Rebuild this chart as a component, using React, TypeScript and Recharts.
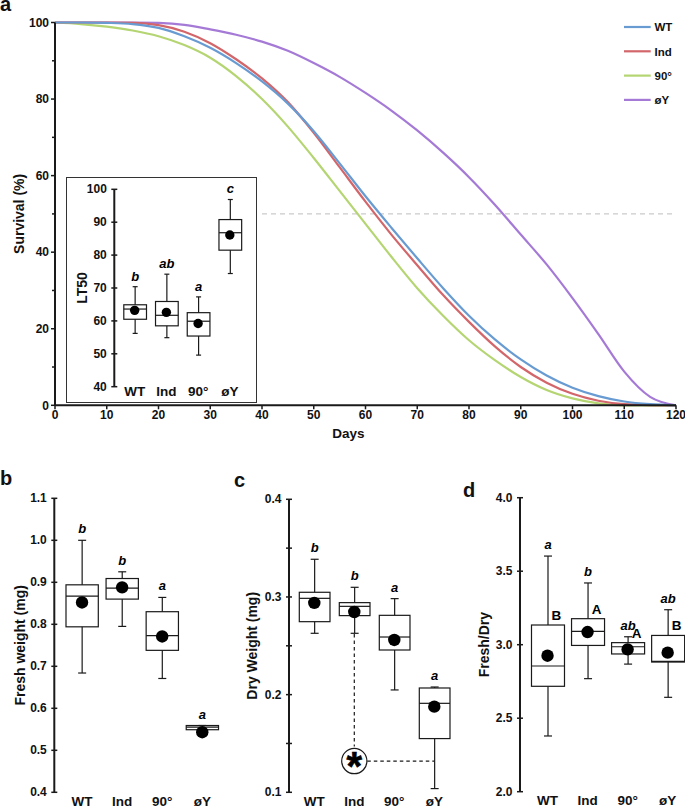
import React from "react";
import {
  Bar,
  ComposedChart,
  Line,
  LineChart,
  ReferenceDot,
  ReferenceLine,
  XAxis,
  YAxis,
} from "recharts";

const FONT = "'Liberation Sans', Arial, sans-serif";
const INK = "#1a1a1a";

// panel a: survival curves, read every 5 days
const days = [0, 5, 10, 15, 20, 25, 30, 35, 40, 45, 50, 55, 60, 65, 70, 75, 80, 85, 90, 95, 100, 105, 110, 115, 120];
const wtCurve = [100, 100, 99.9, 99.6, 98.6, 96.4, 93.4, 89.4, 84.6, 78.8, 71.6, 63.2, 54.6, 46.4, 38.4, 30.6, 23.4, 17.2, 12, 7.8, 4.6, 2.4, 1, 0.3, 0];
const indCurve = [100, 100, 100, 99.9, 99.3, 97.6, 94.6, 90.4, 85.4, 79.2, 71.2, 62.2, 53.2, 44.6, 36.6, 28.8, 21.8, 15.4, 10, 5.9, 3, 1.2, 0.3, 0.05, 0];
const deg90Curve = [100, 99.6, 98.9, 97.9, 96.4, 94.1, 90.8, 86, 80, 72.8, 64.6, 56, 47.4, 38.8, 30.6, 23.4, 17, 11.8, 7.4, 4, 1.8, 0.5, 0, 0, 0];
const noYCurve = [100, 100, 100, 100, 99.9, 99.4, 98.2, 96.8, 95, 92.6, 89.4, 85.8, 81.6, 77, 71.8, 66, 59.6, 52.4, 44.6, 36.8, 28, 18.6, 8.8, 2.2, 0];

const groups = ["WT", "Ind", "90°", "øY"];

// inset LT50
const lt50Max = [70.4, 74.2, 67.3, 96.9];
const lt50Q3 = [64.9, 65.9, 62.5, 90.8];
const lt50Median = [63.6, 61.7, 59.9, 86.8];
const lt50Q1 = [60.5, 58.5, 55.4, 81.5];
const lt50Min = [56.2, 54.9, 49.6, 74.4];
const lt50Mean = [63.2, 62.6, 59.2, 86.1];
const lt50Letters = ["b", "ab", "a", "c"];

// panel b
const freshMax = [1.0, 0.925, 0.864, 0.559];
const freshQ3 = [0.894, 0.909, 0.83, 0.559];
const freshMedian = [0.867, 0.886, 0.773, 0.555];
const freshQ1 = [0.794, 0.86, 0.738, 0.549];
const freshMin = [0.684, 0.795, 0.671, 0.549];
const freshMean = [0.852, 0.888, 0.771, 0.543];
const freshLetters = ["b", "b", "a", "a"];

// panel c
const dryMax = [0.3386, 0.3099, 0.2983, 0.2078];
const dryQ3 = [0.3048, 0.2942, 0.2812, 0.2068];
const dryMedian = [0.2986, 0.2904, 0.259, 0.1911];
const dryQ1 = [0.2747, 0.2809, 0.2457, 0.155];
const dryMin = [0.2628, 0.2628, 0.2048, 0.1038];
const dryMean = [0.2939, 0.2846, 0.256, 0.1877];
const dryLetters = ["b", "b", "a", "a"];

// panel d
const ratioMax = [3.603, 3.42, 3.054, 3.238];
const ratioQ3 = [3.134, 3.177, 3.014, 3.063];
const ratioMedian = [2.855, 3.09, 2.986, 2.887];
const ratioQ1 = [2.717, 2.995, 2.937, 2.882];
const ratioMin = [2.379, 2.769, 2.868, 2.642];
const ratioMean = [2.925, 3.086, 2.968, 2.946];
const ratioLetters = ["a", "b", "ab", "ab"];
const ratioCapitals = ["B", "A", "A", "B"];

const curveSeries = [
  { name: "øY", values: noYCurve, color: "#a57ad6" },
  { name: "90°", values: deg90Curve, color: "#b4d572" },
  { name: "Ind", values: indCurve, color: "#d2666a" },
  { name: "WT", values: wtCurve, color: "#689bd2" },
];
const legendOrder = ["WT", "Ind", "90°", "øY"];

const curveRows = days.map((day, i) => {
  const row: Record<string, number> = { day };
  curveSeries.forEach((s) => {
    row[s.name] = s.values[i];
  });
  return row;
});

function boxRows(max, q3, median, q1, min, mean, letters, capitals = []) {
  return groups.map((group, i) => ({
    group,
    max: max[i],
    q3: q3[i],
    median: median[i],
    q1: q1[i],
    min: min[i],
    mean: mean[i],
    letter: letters[i],
    capital: capitals[i],
  }));
}

// draws whisker, box, median and letters from the bar that spans min..max
function BoxShape(props) {
  const { x, y, width, height, payload, letterGap, capSize } = props;
  const { min, max, q1, q3, median, letter, capital } = payload;
  const perUnit = height / (max - min);
  const toY = (v: number) => y + (max - v) * perUnit;
  const cx = x + width / 2;
  const cap = capSize / 2;
  return (
    <g stroke={INK} strokeWidth={1.2} fill="none">
      <line x1={cx} x2={cx} y1={toY(max)} y2={toY(min)} />
      <line x1={cx - cap} x2={cx + cap} y1={toY(max)} y2={toY(max)} />
      <line x1={cx - cap} x2={cx + cap} y1={toY(min)} y2={toY(min)} />
      <rect x={x} y={toY(q3)} width={width} height={toY(q1) - toY(q3)} fill="#fff" />
      <line x1={x} x2={x + width} y1={toY(median)} y2={toY(median)} />
      <text
        x={cx}
        y={y - letterGap}
        textAnchor="middle"
        stroke="none"
        fill="#000"
        fontFamily={FONT}
        fontSize={13}
        fontWeight={700}
        fontStyle="italic"
      >
        {letter}
      </text>
      {capital ? (
        <text
          x={cx + 8.5}
          y={toY(q3) - 5}
          textAnchor="middle"
          stroke="none"
          fill="#000"
          fontFamily={FONT}
          fontSize={13.5}
          fontWeight={700}
        >
          {capital}
        </text>
      ) : null}
    </g>
  );
}

// ticks cross the axis line here, and only some of them carry a number
function makeYTick(labels: number[], decimals: number, out: number, inward: number, labelGap: number, minorOut = out) {
  return function YTick({ x, y, payload }) {
    const major = labels.includes(payload.value);
    return (
      <g>
        <line x1={x - (major ? out : minorOut)} x2={x + inward} y1={y} y2={y} stroke={INK} strokeWidth={1.5} />
        {major ? (
          <text x={x - labelGap} y={y + 4.2} textAnchor="end" fontFamily={FONT} fontSize={12} fontWeight={700} fill="#111">
            {payload.value.toFixed(decimals)}
          </text>
        ) : null}
      </g>
    );
  };
}

const titleStyle = { textAnchor: "middle" as const, fontFamily: FONT, fontSize: 14, fontWeight: 700, fill: "#111" };
const categoryTick = { fontFamily: FONT, fontSize: 13.5, fontWeight: 700, fill: "#111" };

function BoxPanel({
  rows,
  left,
  top,
  bottom = 809,
  right,
  plotTop,
  plotBottom,
  axisX,
  bandPad,
  domain,
  ticks,
  labels,
  decimals,
  title,
  titleX,
  boxWidth,
  dotRadius,
  capSize = 8,
  letterGap = 7,
  tickGap = 4,
  children = null,
}) {
  const height = bottom - top;
  return (
    <div style={{ position: "absolute", left, top }}>
      <ComposedChart
        width={right - left}
        height={height}
        data={rows}
        margin={{ top: plotTop - top, right: 0, bottom: 0, left: 0 }}
      >
        <XAxis
          dataKey="group"
          height={bottom - plotBottom}
          axisLine={false}
          tickLine={false}
          tickSize={0}
          tickMargin={tickGap}
          interval={0}
          padding={{ left: bandPad, right: 0 }}
          tick={categoryTick}
        />
        <YAxis
          width={axisX - left}
          domain={domain}
          ticks={ticks}
          interval={0}
          axisLine={{ stroke: INK, strokeWidth: 2 }}
          tickLine={false}
          tickSize={0}
          tickMargin={0}
          tick={makeYTick(labels, decimals, 3, 3, 7.5)}
          label={{ value: title, angle: -90, position: "insideLeft", offset: titleX, style: titleStyle }}
        />
        <Bar
          dataKey={(r) => [r.min, r.max]}
          barSize={boxWidth}
          isAnimationActive={false}
          shape={(p) => <BoxShape {...p} letterGap={letterGap} capSize={capSize} />}
        />
        <Line
          dataKey="mean"
          stroke="none"
          isAnimationActive={false}
          dot={{ r: dotRadius, fill: "#000", stroke: "none" }}
          activeDot={false}
        />
        {children}
      </ComposedChart>
    </div>
  );
}

function CurveLegend() {
  return (
    <svg width={70} height={100} style={{ position: "absolute", left: 624, top: 17 }}>
      {legendOrder.map((name, i) => {
        const s = curveSeries.find((c) => c.name === name);
        const y = 10 + i * 24.3;
        return (
          <g key={name}>
            <line x1={0} x2={26.7} y1={y} y2={y} stroke={s.color} strokeWidth={2.2} />
            <text x={30.5} y={y + 4.2} fontFamily={FONT} fontSize={11.5} fontWeight={700} fill="#111">
              {name}
            </text>
          </g>
        );
      })}
    </svg>
  );
}

function PanelLetter({ children, left, top }) {
  return (
    <div
      style={{
        position: "absolute",
        left,
        top,
        fontFamily: FONT,
        fontSize: 20,
        fontWeight: 700,
        lineHeight: "20px",
        color: "#111",
      }}
    >
      {children}
    </div>
  );
}

const survivalYTick = makeYTick([0, 20, 40, 60, 80, 100], 0, 4, 0, 6, 3);

export default function App() {
  return (
    <div style={{ position: "fixed", left: 0, top: 0, width: 685, height: 809, overflow: "hidden", background: "#fff" }}>
      <div style={{ position: "absolute", left: 0, top: 0 }}>
        <LineChart width={685} height={445} data={curveRows} margin={{ top: 22.5, right: 9, bottom: 0, left: 0 }}>
          <XAxis
            dataKey="day"
            type="number"
            domain={[0, 120]}
            ticks={[0, 10, 20, 30, 40, 50, 60, 70, 80, 90, 100, 110, 120]}
            interval={0}
            height={39.7}
            axisLine={{ stroke: INK, strokeWidth: 2 }}
            tickLine={{ stroke: INK, strokeWidth: 1.5 }}
            tickSize={4}
            tickMargin={1}
            tick={{ fontFamily: FONT, fontSize: 12, fontWeight: 700, fill: "#111" }}
            label={{ value: "Days", position: "insideBottom", offset: 7, dx: -17, style: { ...titleStyle, fontSize: 13.5 } }}
          />
          <YAxis
            width={55}
            domain={[0, 100]}
            ticks={[0, 10, 20, 30, 40, 50, 60, 70, 80, 90, 100]}
            interval={0}
            axisLine={{ stroke: INK, strokeWidth: 2 }}
            tickLine={false}
            tickSize={0}
            tickMargin={0}
            tick={survivalYTick}
            label={{ value: "Survival (%)", angle: -90, position: "insideLeft", offset: 19, style: titleStyle }}
          />
          <ReferenceLine
            segment={[{ x: 40, y: 50 }, { x: 120, y: 50 }]}
            stroke="#bdbdbd"
            strokeWidth={1}
            strokeDasharray="5 4"
          />
          {curveSeries.map((s) => (
            <Line
              key={s.name}
              dataKey={s.name}
              type="monotone"
              stroke={s.color}
              strokeWidth={2.2}
              dot={false}
              activeDot={false}
              isAnimationActive={false}
            />
          ))}
        </LineChart>
      </div>
      <CurveLegend />

      <div
        style={{
          position: "absolute",
          left: 66,
          top: 176.5,
          width: 188.5,
          height: 224,
          border: "1.2px solid #333",
          background: "#fff",
          boxSizing: "content-box",
        }}
      />
      <BoxPanel
        rows={boxRows(lt50Max, lt50Q3, lt50Median, lt50Q1, lt50Min, lt50Mean, lt50Letters)}
        left={70}
        top={178}
        bottom={400}
        right={245.7}
        plotTop={189.3}
        plotBottom={386.7}
        axisX={114.3}
        bandPad={4.5}
        domain={[40, 100]}
        ticks={[40, 50, 60, 70, 80, 90, 100]}
        labels={[40, 50, 60, 70, 80, 90, 100]}
        decimals={0}
        title="LT50"
        titleX={12}
        boxWidth={22.7}
        dotRadius={4.7}
        capSize={5}
        letterGap={6}
        tickGap={0}
      />

      <BoxPanel
        rows={boxRows(freshMax, freshQ3, freshMedian, freshQ1, freshMin, freshMean, freshLetters)}
        left={0}
        top={480}
        right={222.3}
        plotTop={498.3}
        plotBottom={792.3}
        axisX={54.3}
        bandPad={7.7}
        domain={[0.4, 1.1]}
        ticks={[0.4, 0.5, 0.6, 0.7, 0.8, 0.9, 1.0, 1.1]}
        labels={[0.4, 0.5, 0.6, 0.7, 0.8, 0.9, 1.0, 1.1]}
        decimals={1}
        title="Fresh weight (mg)"
        titleX={20}
        boxWidth={32.3}
        dotRadius={6.2}
      />

      <BoxPanel
        rows={boxRows(dryMax, dryQ3, dryMedian, dryQ1, dryMin, dryMean, dryLetters)}
        left={225}
        top={480}
        right={454.3}
        plotTop={499.3}
        plotBottom={792.3}
        axisX={289}
        bandPad={5.3}
        domain={[0.1, 0.4]}
        ticks={[0.1, 0.15, 0.2, 0.25, 0.3, 0.35, 0.4]}
        labels={[0.1, 0.2, 0.3, 0.4]}
        decimals={1}
        title="Dry Weight (mg)"
        titleX={27}
        boxWidth={30.7}
        dotRadius={6.2}
      >
        <ReferenceLine
          segment={[{ x: "Ind", y: 0.262 }, { x: "Ind", y: 0.147 }]}
          stroke={INK}
          strokeWidth={1.2}
          strokeDasharray="3.5 3"
        />
        <ReferenceLine
          segment={[{ x: "Ind", y: 0.132 }, { x: "øY", y: 0.132 }]}
          stroke={INK}
          strokeWidth={1.2}
          strokeDasharray="3.5 3"
        />
        <ReferenceDot
          x="Ind"
          y={0.132}
          shape={({ cx, cy }) => (
            <g>
              <circle cx={cx} cy={cy} r={12.6} fill="#fff" stroke={INK} strokeWidth={1.2} />
              <text
                x={cx}
                y={cy + 19}
                textAnchor="middle"
                fontFamily={FONT}
                fontSize={40}
                fontWeight={700}
                fill="#000"
                stroke="#000"
                strokeWidth={0.6}
              >
                *
              </text>
            </g>
          )}
        />
      </BoxPanel>

      <BoxPanel
        rows={boxRows(ratioMax, ratioQ3, ratioMedian, ratioQ1, ratioMin, ratioMean, ratioLetters, ratioCapitals)}
        left={460}
        top={480}
        right={687.7}
        plotTop={497.7}
        plotBottom={791.7}
        axisX={520}
        bandPad={7.5}
        domain={[2, 4]}
        ticks={[2, 2.5, 3, 3.5, 4]}
        labels={[2, 2.5, 3, 3.5, 4]}
        decimals={1}
        title="Fresh/Dry"
        titleX={24}
        boxWidth={33}
        dotRadius={6.2}
      />

      <PanelLetter left={0} top={-6}>a</PanelLetter>
      <PanelLetter left={0} top={468}>b</PanelLetter>
      <PanelLetter left={234} top={470}>c</PanelLetter>
      <PanelLetter left={463} top={480}>d</PanelLetter>
    </div>
  );
}
